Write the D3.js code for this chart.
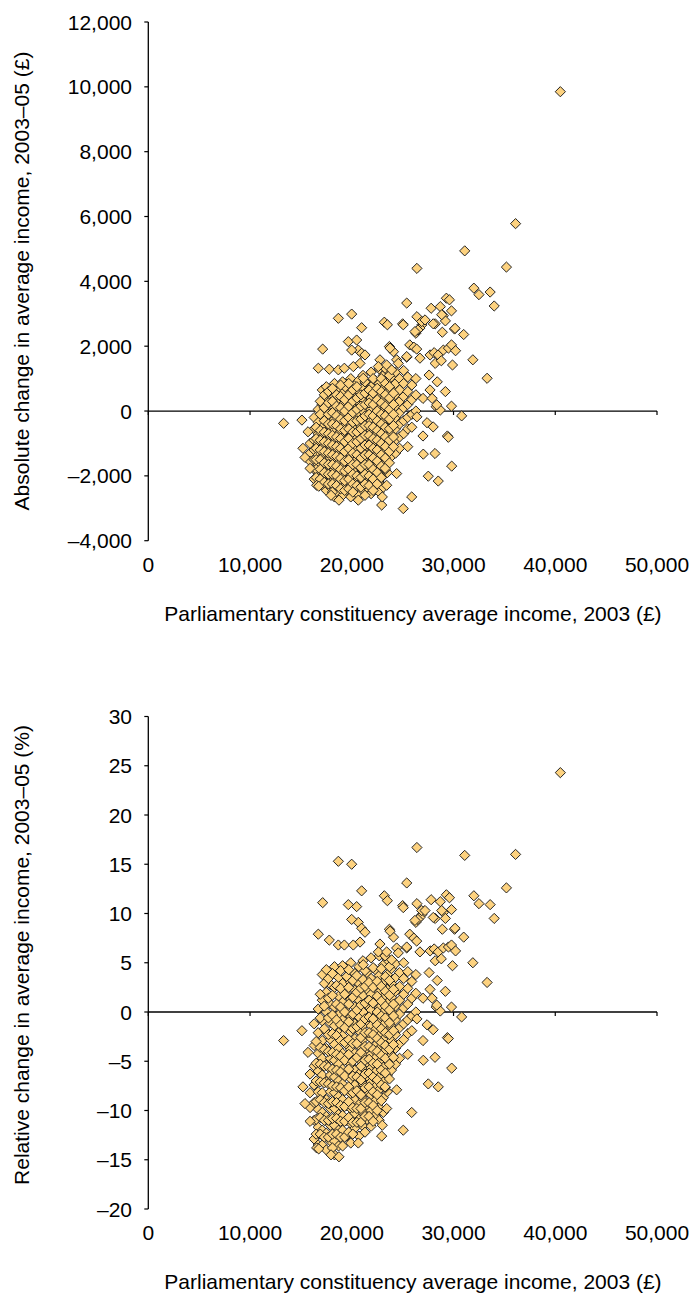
<!DOCTYPE html>
<html>
<head>
<meta charset="utf-8">
<script src="https://cdn.jsdelivr.net/npm/d3@7"></script>
<style>
  body { margin: 0; background: #fff; }
  svg { display: block; font-family: "Liberation Sans", Arial, sans-serif; }
</style>
</head>
<body>
<div id="chart"></div>
<script>
// tick values
var xTicks = [0, 10000, 20000, 30000, 40000, 50000];
var absTicks = [-4000, -2000, 0, 2000, 4000, 6000, 8000, 10000, 12000];
var relTicks = [-20, -15, -10, -5, 0, 5, 10, 15, 20, 25, 30];

var xTitle = "Parliamentary constituency average income, 2003 (£)";
var absTitle = "Absolute change in average income, 2003–05 (£)";
var relTitle = "Relative change in average income, 2003–05 (%)";

// dense middle of the cloud, read column by column (income, then the changes in that column)
var blobIncome = [15900, 16300, 16700, 17100, 17500, 17900, 18300, 18700, 19100, 19500,
  19900, 20300, 20700, 21100, 21500, 21900, 22300, 22700, 23100, 23500,
  23900, 24300, 24700, 25100, 25500, 25900, 26300,
  // in-between columns
  16500, 16900, 17300, 17700, 18100, 18500, 18900, 19300, 19700, 20100,
  20500, 20900, 21300, 21700, 22100, 22500, 22900, 23300, 23700, 24100];
var blobAbs = [
  [-1000, -1300, -1550],
  [-200, -550, -900, -1200, -1500, -1800, -2100],
  [50, -350, -700, -1000, -1350, -1650, -1950, -2250],
  [650, 200, -150, -500, -800, -1100, -1400, -1750, -2050, -2300],
  [750, 350, 0, -350, -650, -950, -1250, -1550, -1850, -2150, -2450],
  [500, 150, -200, -500, -850, -1150, -1450, -1750, -2050, -2350],
  [850, 450, 100, -250, -600, -900, -1200, -1500, -1800, -2100, -2400, -2650],
  [650, 300, -50, -400, -700, -1000, -1300, -1600, -1950, -2250, -2550],
  [900, 550, 200, -150, -450, -800, -1100, -1400, -1700, -2000, -2300, -2600],
  [700, 350, 0, -300, -650, -950, -1250, -1550, -1850, -2150, -2450],
  [1000, 600, 250, -100, -400, -750, -1050, -1350, -1650, -1950, -2250, -2650],
  [800, 450, 100, -250, -550, -850, -1200, -1500, -1800, -2100, -2400],
  [950, 600, 250, -100, -400, -700, -1000, -1300, -1650, -1950, -2250, -2600],
  [1100, 700, 350, 0, -300, -600, -900, -1200, -1550, -1850, -2150, -2450],
  [850, 500, 150, -200, -500, -800, -1100, -1400, -1750, -2050, -2350],
  [1200, 750, 400, 50, -300, -600, -950, -1250, -1550, -1850, -2200, -2550],
  [950, 600, 250, -100, -400, -750, -1050, -1350, -1700, -2000, -2350],
  [1300, 850, 450, 100, -250, -550, -850, -1150, -1500, -1800, -2200, -2500],
  [1100, 700, 350, 0, -300, -650, -950, -1300, -1650, -2000, -2350],
  [1250, 900, 550, 200, -150, -450, -800, -1150, -1500, -1900],
  [1050, 700, 350, 0, -350, -700, -1050, -1400],
  [1200, 850, 500, 150, -200, -550, -900, -1300],
  [1000, 650, 300, -50, -400, -800, -1150],
  [1250, 850, 450, 100, -300, -700],
  [1050, 600, 200, -200, -550, -1100],
  [800, 350, -100, -500],
  [1000, 500, 0],
  [-500, -850, -1150, -1500, -1800, -2050],
  [300, -100, -600, -900, -1200, -1500, -1800, -2100],
  [500, 100, -300, -650, -950, -1250, -1600, -1900, -2200],
  [600, 250, -100, -400, -700, -1000, -1300, -1650, -1950, -2250],
  [700, 300, -50, -400, -750, -1050, -1350, -1650, -1950, -2250, -2500],
  [500, 150, -150, -450, -800, -1100, -1400, -1700, -2000, -2300],
  [800, 450, 100, -250, -550, -850, -1150, -1450, -1800, -2100, -2400],
  [350, 0, -300, -600, -950, -1250, -1550, -1850, -2150, -2450],
  [850, 500, 150, -200, -550, -850, -1150, -1500, -1800, -2100, -2400],
  [650, 300, -50, -350, -650, -1000, -1300, -1650, -1950, -2250, -2500],
  [750, 400, 50, -300, -650, -950, -1350, -1650, -2000, -2300],
  [500, 150, -250, -550, -850, -1150, -1450, -1750, -2050, -2350],
  [900, 550, 200, -150, -450, -750, -1050, -1350, -1650, -1950, -2250, -2600],
  [650, 250, -100, -450, -750, -1050, -1350, -1650, -2000, -2300],
  [1000, 550, 200, -150, -500, -850, -1150, -1450, -1800, -2100, -2450],
  [700, 350, 0, -300, -600, -900, -1200, -1550, -1900, -2250],
  [1000, 600, 250, -100, -400, -700, -1000, -1350, -1700, -2050],
  [850, 500, 150, -150, -500, -800, -1100, -1450, -1800],
  [1100, 750, 400, 50, -250, -550, -900, -1250, -1600],
  [550, 200, -100, -450, -800, -1100]
];
var blobRel = [
  [-6.3, -8.2, -9.7],
  [-1.2, -3.4, -5.5, -7.4, -9.2, -11.0, -12.9],
  [0.3, -2.1, -4.2, -6.0, -8.1, -9.9, -11.7, -13.5],
  [3.8, 1.2, -0.9, -2.9, -4.7, -6.4, -8.2, -10.2, -12.0, -13.5],
  [4.3, 2.0, 0, -2.0, -3.7, -5.4, -7.1, -8.9, -10.6, -12.3, -14.0],
  [2.8, 0.8, -1.1, -2.8, -4.7, -6.4, -8.1, -9.8, -11.5, -13.1],
  [4.6, 2.5, 0.5, -1.4, -3.3, -4.9, -6.6, -8.2, -9.8, -11.5, -13.1, -14.5],
  [3.5, 1.6, -0.3, -2.1, -3.7, -5.3, -7.0, -8.6, -10.4, -12.0, -13.6],
  [4.7, 2.9, 1.0, -0.8, -2.4, -4.2, -5.8, -7.3, -8.9, -10.5, -12.0, -13.6],
  [3.6, 1.8, 0, -1.5, -3.3, -4.9, -6.4, -7.9, -9.5, -11.0, -12.6],
  [5.0, 3.0, 1.3, -0.5, -2.0, -3.8, -5.3, -6.8, -8.3, -9.8, -11.3, -13.3],
  [3.9, 2.2, 0.5, -1.2, -2.7, -4.2, -5.9, -7.4, -8.9, -10.3, -11.8],
  [4.6, 2.9, 1.2, -0.5, -1.9, -3.4, -4.8, -6.3, -8.0, -9.4, -10.9, -12.6],
  [5.2, 3.3, 1.7, 0, -1.4, -2.8, -4.3, -5.7, -7.3, -8.8, -10.2, -11.6],
  [4.0, 2.3, 0.7, -0.9, -2.3, -3.7, -5.1, -6.5, -8.1, -9.5, -10.9],
  [5.5, 3.4, 1.8, 0.2, -1.4, -2.7, -4.3, -5.7, -7.1, -8.4, -10.0, -11.6],
  [4.3, 2.7, 1.1, -0.4, -1.8, -3.4, -4.7, -6.1, -7.6, -9.0, -10.5],
  [5.7, 3.7, 2.0, 0.4, -1.1, -2.4, -3.7, -5.1, -6.6, -7.9, -9.7, -11.0],
  [4.8, 3.0, 1.5, 0, -1.3, -2.8, -4.1, -5.6, -7.1, -8.7, -10.2],
  [5.3, 3.8, 2.3, 0.9, -0.6, -1.9, -3.4, -4.9, -6.4, -8.1],
  [4.4, 2.9, 1.5, 0, -1.5, -2.9, -4.4, -5.9],
  [4.9, 3.5, 2.1, 0.6, -0.8, -2.3, -3.7, -5.3],
  [4.0, 2.6, 1.2, -0.2, -1.6, -3.2, -4.7],
  [5.0, 3.4, 1.8, 0.4, -1.2, -2.8],
  [4.1, 2.4, 0.8, -0.8, -2.2, -4.3],
  [3.1, 1.4, -0.4, -1.9],
  [3.8, 1.9, 0],
  [-3.0, -5.2, -7.0, -9.1, -10.9, -12.4],
  [1.8, -0.6, -3.6, -5.3, -7.1, -8.9, -10.7, -12.4],
  [2.9, 0.6, -1.7, -3.8, -5.5, -7.2, -9.2, -11.0, -12.7],
  [3.4, 1.4, -0.6, -2.3, -4.0, -5.6, -7.3, -9.3, -11.0, -12.7],
  [3.9, 1.7, -0.3, -2.2, -4.1, -5.8, -7.5, -9.1, -10.8, -12.4, -13.8],
  [2.7, 0.8, -0.8, -2.4, -4.3, -5.9, -7.6, -9.2, -10.8, -12.4],
  [4.2, 2.4, 0.5, -1.3, -2.9, -4.5, -6.1, -7.7, -9.5, -11.1, -12.7],
  [1.8, 0, -1.6, -3.1, -4.9, -6.5, -8.0, -9.6, -11.1, -12.7],
  [4.3, 2.5, 0.8, -1.0, -2.8, -4.3, -5.8, -7.6, -9.1, -10.7, -12.2],
  [3.2, 1.5, -0.2, -1.7, -3.2, -5.0, -6.5, -8.2, -9.7, -11.2, -12.4],
  [3.7, 2.0, 0.2, -1.5, -3.2, -4.6, -6.6, -8.0, -9.8, -11.2],
  [2.4, 0.7, -1.2, -2.6, -4.1, -5.5, -6.9, -8.4, -9.8, -11.2],
  [4.2, 2.6, 0.9, -0.7, -2.1, -3.5, -4.9, -6.3, -7.7, -9.2, -10.6, -12.2],
  [3.0, 1.2, -0.5, -2.1, -3.5, -4.8, -6.2, -7.6, -9.2, -10.6],
  [4.5, 2.5, 0.9, -0.7, -2.3, -3.8, -5.2, -6.6, -8.1, -9.5, -11.1],
  [3.1, 1.6, 0, -1.3, -2.7, -4.0, -5.3, -6.9, -8.4, -10.0],
  [4.4, 2.6, 1.1, -0.4, -1.7, -3.1, -4.4, -5.9, -7.4, -9.0],
  [3.6, 2.1, 0.6, -0.6, -2.1, -3.4, -4.7, -6.2, -7.7],
  [4.6, 3.2, 1.7, 0.2, -1.1, -2.3, -3.8, -5.3, -6.8],
  [2.3, 0.8, -0.4, -1.9, -3.3, -4.6]
];

// the scattered constituencies around the cloud
var otherIncome = [40500, 36100, 31100, 26400, 35200, 32000, 32500, 33600, 34000, 25400,
  29300, 29600, 27800, 28700, 29800, 29000, 26400, 27000, 26900, 26700,
  28200, 29200, 25000, 23200, 23500, 28900, 30100, 31000, 26300, 26500,
  23700, 24100, 25700, 26100, 25400, 26700, 27700, 28100, 28500, 29000,
  29500, 29800, 30200, 28200, 28800, 29900, 31900, 33300, 27600, 28400,
  29200, 27000, 27900, 28300, 28700, 29800, 30800, 29400, 27000, 27400,
  28000, 26400, 13300, 15100, 15700, 15200, 15400, 15900, 16550, 16750,
  17960, 18740, 20640, 22940, 25060, 25890, 27520, 28500, 29820, 27030,
  28180, 29490, 24410, 23270, 23430, 23000, 18680, 19990, 20970, 25060,
  17140, 19660, 20480, 20640, 19990, 20970, 21300, 20810, 16710, 17790,
  18680, 19270, 20150, 21130, 22770, 23270, 22610, 23430, 23920, 23760,
  24410, 24570, 25400, 26380, 26870, 27200, 26210, 28840, 28010, 30150,
  27690, 28350];
var otherAbs = [9850, 5780, 4940, 4400, 4440, 3790, 3590, 3670, 3240, 3330,
  3480, 3430, 3170, 3220, 3090, 2940, 2910, 2750, 2660, 2560,
  2690, 2780, 2690, 2740, 2660, 2430, 2530, 2360, 2400, 2500,
  1990, 1830, 2040, 1970, 1660, 1630, 1730, 1800, 1730, 1880,
  1940, 2040, 1860, 1470, 1550, 1420, 1580, 1010, 1110, 900,
  600, 390, 390, 130, 30, 150, -150, -770, -770, -360,
  -490, -180, -380, -280, -640, -1150, -1430, -1770, -2290, -2320,
  -2600, -2750, -2750, -2900, -3010, -2650, -2010, -2160, -1700, -1330,
  -1310, -810, -1930, -1770, -2290, -2650, 2860, 2990, 2570, 2660,
  1910, 2140, 2190, 1880, 1880, 1780, 1730, 1470, 1320, 1290,
  1270, 1320, 1370, 1010, 1580, 1320, 1370, 1420, 1270, 1940,
  1580, 1470, 1680, 1910, 2760, 2810, 2450, 2970, 2690, 2550,
  650, 190];
var otherRel = [24.3, 16.0, 15.9, 16.7, 12.6, 11.8, 11.0, 10.9, 9.5, 13.1,
  11.9, 11.6, 11.4, 11.2, 10.4, 10.1, 11.0, 10.2, 9.9, 9.6,
  9.5, 9.5, 10.8, 11.8, 11.3, 8.4, 8.4, 7.6, 9.1, 9.4,
  8.4, 7.6, 7.9, 7.5, 6.5, 6.1, 6.2, 6.4, 6.1, 6.5,
  6.6, 6.8, 6.2, 5.2, 5.4, 4.7, 5.0, 3.0, 4.0, 3.2,
  2.1, 1.4, 1.4, 0.5, 0.1, 0.5, -0.5, -2.6, -2.9, -1.3,
  -1.8, -0.7, -2.9, -1.9, -4.1, -7.6, -9.3, -11.1, -13.8, -13.9,
  -14.5, -14.7, -13.3, -12.6, -12.0, -10.2, -7.3, -7.6, -5.7, -4.9,
  -4.6, -2.7, -7.9, -7.6, -9.8, -11.5, 15.3, 15.0, 12.3, 10.6,
  11.1, 10.9, 10.7, 9.1, 9.4, 8.5, 8.1, 7.1, 7.9, 7.3,
  6.8, 6.8, 6.8, 4.8, 6.9, 5.7, 6.1, 6.1, 5.3, 8.2,
  6.5, 6.0, 6.6, 7.2, 10.3, 10.3, 9.3, 10.3, 9.6, 8.5,
  2.3, 0.7];

var width = 693, height = 1293;
var fontSize = 21;

var svg = d3.select("#chart")
    .append("svg")
    .attr("width", width)
    .attr("height", height);

// put both groups of points into plain lists
var income = [], absChange = [], relChange = [];
blobIncome.forEach(function (inc, i) {
    blobAbs[i].forEach(function (v, j) {
        income.push(inc);
        absChange.push(v);
        relChange.push(blobRel[i][j]);
    });
});
otherIncome.forEach(function (inc, i) {
    income.push(inc);
    absChange.push(otherAbs[i]);
    relChange.push(otherRel[i]);
});

var x = d3.scaleLinear().domain([0, 50000]).range([148.3, 657]);

function fmt(v) {
    var s = d3.format(",")(Math.abs(v));
    return v < 0 ? "–" + s : s;
}

function drawPanel(values, ticks, yRange, title, titleY) {
    var y = d3.scaleLinear().domain([ticks[0], ticks[ticks.length - 1]]).range(yRange);
    var g = svg.append("g");
    var yBottom = y(ticks[0]);
    var y0 = y(0);

    // y axis
    g.append("line")
        .attr("x1", x(0)).attr("x2", x(0))
        .attr("y1", y(ticks[ticks.length - 1])).attr("y2", yBottom)
        .attr("stroke", "#000").attr("stroke-width", 1.3);
    ticks.forEach(function (t) {
        g.append("line")
            .attr("x1", x(0) - 4).attr("x2", x(0))
            .attr("y1", y(t)).attr("y2", y(t))
            .attr("stroke", "#000").attr("stroke-width", 1.2);
        g.append("text")
            .text(fmt(t))
            .attr("x", 132)
            .attr("y", y(t))
            .attr("dy", "0.36em")
            .attr("text-anchor", "end")
            .attr("font-size", fontSize)
            .attr("fill", "#000");
    });

    // x axis sits on zero, labels stay at the bottom
    g.append("line")
        .attr("x1", x(0)).attr("x2", x(50000))
        .attr("y1", y0).attr("y2", y0)
        .attr("stroke", "#000").attr("stroke-width", 1.3);
    xTicks.forEach(function (t) {
        g.append("line")
            .attr("x1", x(t)).attr("x2", x(t))
            .attr("y1", y0).attr("y2", y0 + 4)
            .attr("stroke", "#000").attr("stroke-width", 1.2);
        g.append("text")
            .text(fmt(t))
            .attr("x", x(t))
            .attr("y", yBottom + 31)
            .attr("text-anchor", "middle")
            .attr("font-size", fontSize)
            .attr("fill", "#000");
    });

    g.append("text")
        .text(xTitle)
        .attr("x", 413)
        .attr("y", yBottom + 80)
        .attr("text-anchor", "middle")
        .attr("font-size", fontSize)
        .attr("fill", "#000");

    g.append("text")
        .text(title)
        .attr("transform", "translate(29," + titleY + ") rotate(-90)")
        .attr("text-anchor", "middle")
        .attr("font-size", fontSize)
        .attr("fill", "#000");

    // points
    var diamond = d3.symbol().type(d3.symbolSquare).size(52);
    g.append("g")
        .selectAll("path")
        .data(income)
        .join("path")
        .attr("d", diamond)
        .attr("transform", function (d, i) {
            return "translate(" + x(d) + "," + y(values[i]) + ") rotate(45)";
        })
        .attr("fill", "#fdd27f")
        .attr("stroke", "#1a1a1a")
        .attr("stroke-width", 0.9);
}

drawPanel(absChange, absTicks, [540.7, 22], absTitle, 281);
drawPanel(relChange, relTicks, [1209, 716.5], relTitle, 955);
</script>
</body>
</html>
